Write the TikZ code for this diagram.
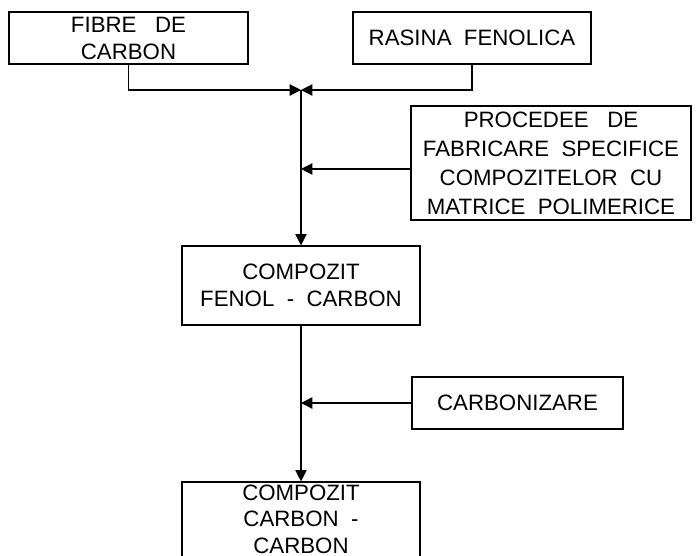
\documentclass[tikz,border=0pt]{standalone}
\usepackage{fontspec}
\setmainfont{Liberation Sans}
\usepackage{tikz}
\usetikzlibrary{arrows.meta}
\tikzset{blk/.style={rectangle,draw=black,line width=1pt,align=center,inner sep=0pt,font=\fontsize{19}{23}\selectfont}}
\tikzset{flow/.style={line width=1pt,-{Triangle[length=0.34cm,width=0.34cm]}}}

\begin{document}
\begin{tikzpicture}
\useasboundingbox (0,0) rectangle (20.88,-16.65);
\node[blk,minimum width=7.17cm,minimum height=1.56cm] (fibre) at (3.855,-1.14) {FIBRE~~~DE\\CARBON};
\node[blk,minimum width=7.14cm,minimum height=1.56cm] (rasina) at (14.16,-1.14) {RASINA~~FENOLICA};
\node[blk,minimum width=8.4cm,minimum height=3.42cm,font=\fontsize{19}{24.7}\selectfont] (procedee) at (16.53,-4.89)
	{PROCEDEE~~~DE\\FABRICARE~~SPECIFICE\\COMPOZITELOR~~CU\\MATRICE~~POLIMERICE};
\node[blk,minimum width=7.14cm,minimum height=2.37cm] (fenol) at (9.03,-8.565) {COMPOZIT\\FENOL~~-~~CARBON};
\node[blk,minimum width=6.33cm,minimum height=1.56cm] (carbon) at (15.525,-12.09) {CARBONIZARE};
% box runs past the lower edge
\node[blk,minimum width=7.14cm,minimum height=2.9cm,text depth=0.68cm,font=\fontsize{19}{22.5}\selectfont] (final) at (9.03,-15.91) {COMPOZIT\\CARBON~~-\\CARBON};
\coordinate (join) at (9.03,-2.7);

\draw[flow] (fibre.south) |- (join);
\draw[flow] (rasina.south) |- (join);
\draw[flow] (join) -- (fenol.north);
\draw[flow] ([yshift=-0.18cm]procedee.west) -- ([yshift=-0.18cm]procedee.west -| join);
\draw[flow] (fenol.south) -- (final.north);
\draw[flow] (carbon.west) -- (carbon.west -| join);
\end{tikzpicture}
\end{document}
